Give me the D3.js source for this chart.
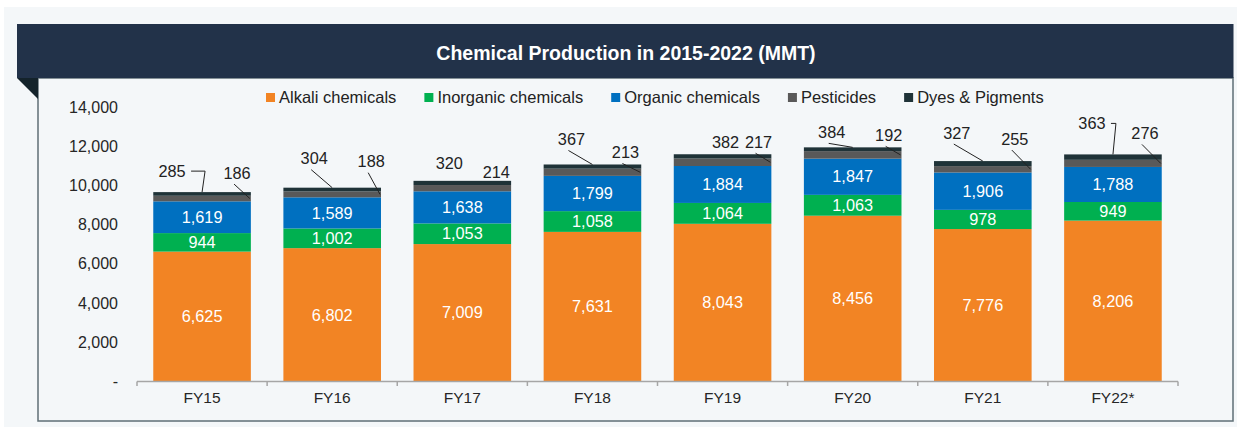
<!DOCTYPE html>
<html>
<head>
<meta charset="utf-8">
<script src="https://cdn.jsdelivr.net/npm/d3@7"></script>
<style>
  html, body { margin: 0; padding: 0; background: #fff; }
  svg { display: block; font-family: "Liberation Sans", Arial, sans-serif; }
</style>
</head>
<body>
<div id="chart"></div>
<script>
const categories = ['FY15', 'FY16', 'FY17', 'FY18', 'FY19', 'FY20', 'FY21', 'FY22*'];
const alkali = [6625, 6802, 7009, 7631, 8043, 8456, 7776, 8206];
const inorganic = [944, 1002, 1053, 1058, 1064, 1063, 978, 949];
const organic = [1619, 1589, 1638, 1799, 1884, 1847, 1906, 1788];
const pesticides = [285, 304, 320, 367, 382, 384, 327, 363];
const dyes = [186, 188, 214, 213, 217, 192, 255, 276];
const yTicks = [0, 2000, 4000, 6000, 8000, 10000, 12000, 14000];

const seriesList = [
  {key: 'alkali', label: 'Alkali chemicals', color: '#f28424', values: alkali},
  {key: 'inorganic', label: 'Inorganic chemicals', color: '#00b050', values: inorganic},
  {key: 'organic', label: 'Organic chemicals', color: '#0070c0', values: organic},
  {key: 'pesticides', label: 'Pesticides', color: '#595959', values: pesticides},
  {key: 'dyes', label: 'Dyes & Pigments', color: '#1f3338', values: dyes}
];

// callout placement for the two thin top segments: [dx from bar centre, dy from bar top, leader type]
const pestCallout = [[-30, -21, 'elbow'], [-18, -29, 'diag'], [-13, -18, null], [-21, -25, 'diag'],
  [3, -12, null], [-21, -15, 'diag'], [-26, -28, 'diag'], [-21, -31, 'elbow']];
const dyeCallout = [[35, -19, 'diag'], [39, -26, 'diag'], [34, -9, null], [33, -12, 'diag'],
  [36, -12, 'diag'], [36, -12, 'diag'], [32, -22, 'diag'], [32, -21, 'diag']];

const W = 1237, H = 427;
const table = categories.map((c, i) => {
  const row = {cat: c};
  seriesList.forEach(s => row[s.key] = s.values[i]);
  return row;
});

const svg = d3.select('#chart').append('svg')
  .attr('width', W).attr('height', H);

// panel backgrounds
svg.append('rect').attr('x', 4).attr('y', 7).attr('width', W - 4).attr('height', H - 7).attr('fill', '#f4f7f9');
svg.append('rect').attr('x', 38).attr('y', 78).attr('width', 1195).attr('height', 343)
  .attr('fill', '#f4f7f9').attr('stroke', '#5f6f76').attr('stroke-width', 1.5);
svg.append('rect').attr('x', 17).attr('y', 24).attr('width', 1216.5).attr('height', 54).attr('fill', '#223249');
svg.append('path').attr('d', 'M17,78L38,78L38,99Z').attr('fill', '#14232b');
svg.append('text')
  .attr('x', 626).attr('y', 53).attr('dy', '0.35em')
  .attr('text-anchor', 'middle').attr('fill', '#fff')
  .attr('font-size', 19.5).attr('font-weight', 'bold')
  .text('Chemical Production in 2015-2022 (MMT)');

const x = d3.scaleBand()
  .domain(categories)
  .range([137, 1178])
  .paddingInner(0.25)
  .paddingOuter(0.125);

const y = d3.scaleLinear()
  .domain([0, 14000])
  .range([381.5, 107]);

const stack = d3.stack().keys(seriesList.map(s => s.key));
const layers = stack(table);

// bars
const g = svg.append('g');
g.selectAll('.layer')
  .data(layers)
  .enter().append('g')
    .attr('class', 'layer')
    .attr('fill', (d, i) => seriesList[i].color)
  .selectAll('rect')
    .data(d => d)
    .enter().append('rect')
      .attr('x', d => x(d.data.cat))
      .attr('width', x.bandwidth())
      .attr('y', d => y(d[1]))
      .attr('height', d => y(d[0]) - y(d[1]));

// labels inside the three big segments
const fmt = d3.format(',');
layers.slice(0, 3).forEach(layer => {
  g.append('g').selectAll('text')
    .data(layer)
    .enter().append('text')
      .attr('x', d => x(d.data.cat) + x.bandwidth() / 2)
      .attr('y', d => (y(d[0]) + y(d[1])) / 2)
      .attr('dy', '0.35em')
      .attr('text-anchor', 'middle')
      .attr('fill', '#fff')
      .attr('font-size', 16.3)
      .text(d => fmt(d[1] - d[0]));
});

// callouts for pesticides and dyes
const pestLayer = layers[3], dyeLayer = layers[4];
const callouts = svg.append('g');
categories.forEach((c, i) => {
  const cx = x(c) + x.bandwidth() / 2;
  const top = y(dyeLayer[i][1]);
  const pestMid = (y(pestLayer[i][0]) + y(pestLayer[i][1])) / 2;

  const [pdx, pdy, ptype] = pestCallout[i];
  const plx = cx + pdx, ply = top + pdy;
  callouts.append('text')
    .attr('x', plx).attr('y', ply).attr('dy', '0.35em')
    .attr('text-anchor', 'middle').attr('fill', '#222').attr('font-size', 16.3)
    .text(fmt(pesticides[i]));
  if (ptype === 'diag') {
    callouts.append('path')
      .attr('d', `M${plx - 3},${ply + 11}L${cx},${top}`)
      .attr('stroke', '#222').attr('fill', 'none');
  } else if (ptype === 'elbow') {
    callouts.append('path')
      .attr('d', `M${plx + 19},${ply}H${cx + 3}L${cx},${top}`)
      .attr('stroke', '#222').attr('fill', 'none');
  }

  const [ddx, ddy, dtype] = dyeCallout[i];
  const dlx = cx + ddx, dly = top + ddy;
  callouts.append('text')
    .attr('x', dlx).attr('y', dly).attr('dy', '0.35em')
    .attr('text-anchor', 'middle').attr('fill', '#222').attr('font-size', 16.3)
    .text(fmt(dyes[i]));
  if (dtype === 'diag') {
    callouts.append('path')
      .attr('d', `M${dlx - 3},${dly + 11}L${cx + x.bandwidth() / 2 - 1},${pestMid}`)
      .attr('stroke', '#222').attr('fill', 'none');
  }
});

// y axis labels (no axis line)
svg.append('g').selectAll('text')
  .data(yTicks)
  .enter().append('text')
    .attr('x', 118)
    .attr('y', d => y(d))
    .attr('dy', '0.35em')
    .attr('text-anchor', 'end')
    .attr('fill', '#262626')
    .attr('font-size', 16)
    .text(d => d === 0 ? '-' : fmt(d));

// x axis: baseline plus ticks at band boundaries
const xAxisG = svg.append('g');
xAxisG.append('line')
  .attr('x1', x.range()[0]).attr('x2', x.range()[1])
  .attr('y1', y(0)).attr('y2', y(0))
  .attr('stroke', '#a6a6a6').attr('stroke-width', 1.5);
const bounds = categories.map(c => x(c) - x.step() * x.paddingInner() / 2);
bounds[0] = x.range()[0];
bounds.push(x.range()[1]);
xAxisG.selectAll('.tick')
  .data(bounds)
  .enter().append('line')
    .attr('x1', d => d).attr('x2', d => d)
    .attr('y1', y(0)).attr('y2', y(0) + 4.5)
    .attr('stroke', '#a6a6a6').attr('stroke-width', 1.5);
xAxisG.selectAll('.cat')
  .data(categories)
  .enter().append('text')
    .attr('x', d => x(d) + x.bandwidth() / 2)
    .attr('y', 398)
    .attr('dy', '0.35em')
    .attr('text-anchor', 'middle')
    .attr('fill', '#262626')
    .attr('font-size', 15.5)
    .text(d => d);

// legend, laid out left to right from measured text widths
const legend = svg.append('g');
let lx = 266;
seriesList.forEach(s => {
  legend.append('rect')
    .attr('x', lx).attr('y', 93).attr('width', 9).attr('height', 9)
    .attr('fill', s.color);
  const t = legend.append('text')
    .attr('x', lx + 13).attr('y', 97.5).attr('dy', '0.35em')
    .attr('fill', '#222').attr('font-size', 16.5)
    .text(s.label);
  lx += 13 + t.node().getComputedTextLength() + 28;
});
</script>
</body>
</html>
